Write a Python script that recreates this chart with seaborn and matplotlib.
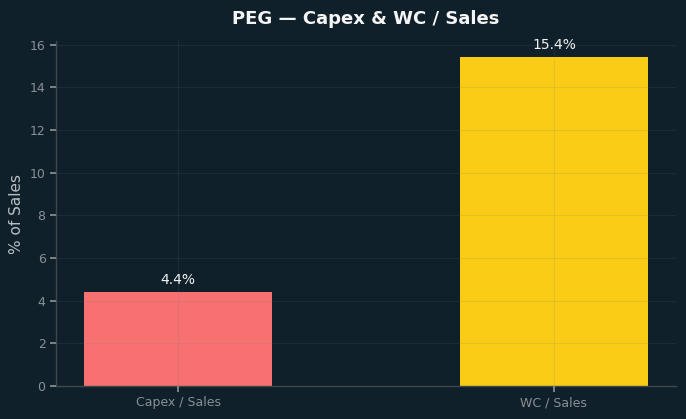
import matplotlib
matplotlib.use("Agg")
import matplotlib.pyplot as plt
import seaborn as sns
import pandas as pd

# Данные
categories = ["Capex / Sales", "WC / Sales"]
values = [4.4, 15.4]
colors = ["#f87171", "#facc15"]

bg = "#10202a"
df = pd.DataFrame({"metric": categories, "pct": values})

sns.set_theme(style="dark")
plt.rcParams["font.family"] = ["DejaVu Sans"]

fig, ax = plt.subplots(figsize=(6.86, 4.19), dpi=100)
fig.patch.set_facecolor(bg)
ax.set_facecolor(bg)

sns.barplot(data=df, x="metric", y="pct", hue="metric", palette=colors,
            width=0.5, legend=False, ax=ax, saturation=1, linewidth=0,
            edgecolor="none")

for p, v in zip(ax.patches, values):
    ax.text(p.get_x() + p.get_width() / 2, v + 0.25, f"{v:.1f}%",
            ha="center", va="bottom", color="#f1f1f1", fontsize=10)

ax.set_title("PEG — Capex & WC / Sales", color="#f5f5f5", fontsize=13,
             fontweight="bold", pad=12)
ax.set_ylabel("% of Sales", color="#b8bec4", fontsize=11)
ax.set_xlabel("")
ax.margins(x=0.05, y=0.05)
ax.set_xlim(-0.325, 1.325)

ax.tick_params(colors="#8a9095", labelsize=9, length=4, left=True, bottom=True)
ax.set_yticks(range(0, 17, 2))
ax.grid(True, color="#6b7280", alpha=0.15, linewidth=0.7)
ax.set_axisbelow(False)

for s in ["top", "right"]:
    ax.spines[s].set_visible(False)
for s in ["left", "bottom"]:
    ax.spines[s].set_visible(True)
    ax.spines[s].set_color("#3f474d")
    ax.spines[s].set_linewidth(1)

plt.subplots_adjust(left=56 / 686, right=676 / 686, top=1 - 41 / 419, bottom=1 - 386 / 419)
plt.savefig("out.png", dpi=100, facecolor=bg)
